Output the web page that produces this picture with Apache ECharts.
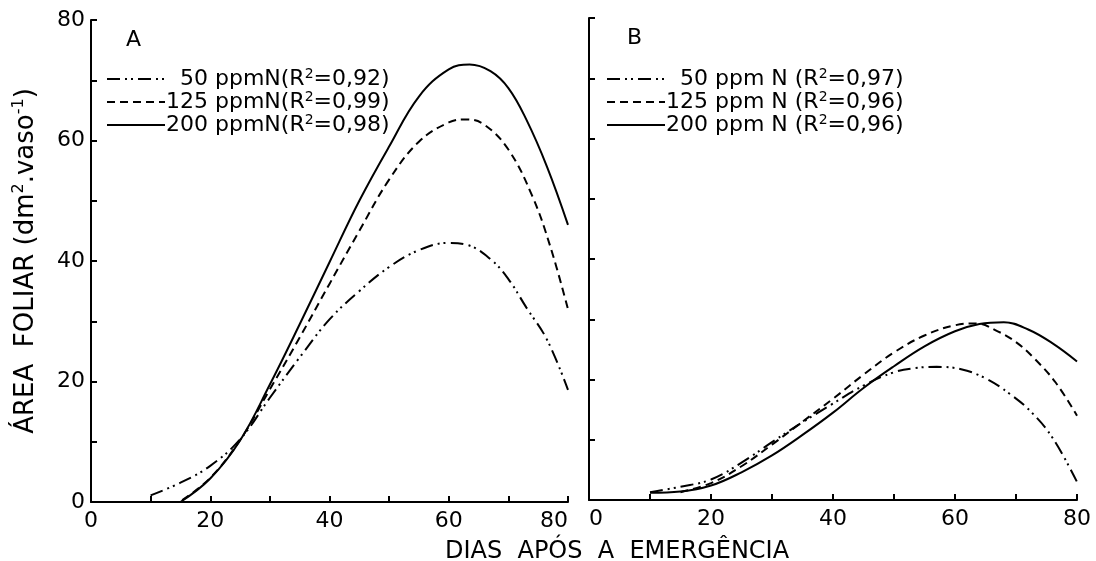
<!DOCTYPE html>
<html>
<head>
<meta charset="utf-8">
<script src="https://cdn.jsdelivr.net/npm/echarts@6/dist/echarts.min.js"></script>
<style>
html,body{margin:0;padding:0;background:#fff;}
#chart{width:1096px;height:561px;}
</style>
</head>
<body>
<div id="chart"></div>
<script>
// ---------- data ----------
// Panel A
const a50Days  = [10, 15, 20, 25, 30, 35, 40, 45, 50, 55, 60, 63, 67, 70, 73, 76.5, 80];
const a50Vals  = [1.1, 3.2, 6, 10.4, 17.3, 24, 30.3, 35, 39, 41.8, 43, 42.7, 40.3, 37, 32.3, 26.9, 18.6];
const a125Days = [15.3, 20, 25, 30, 35, 40, 45, 50, 55, 60, 63, 66, 70, 74, 77, 80];
const a125Vals = [0.3, 4, 10.3, 18.7, 27.3, 36.2, 45, 53.5, 59.8, 63, 63.5, 62.6, 58.5, 50.8, 42.5, 32];
const a200Days = [15, 20, 25, 30, 35, 40, 45, 50, 55, 60, 63.5, 67, 70, 73, 76.5, 80];
const a200Vals = [0, 3.9, 10.2, 19.5, 29.5, 39.8, 50, 59, 67.3, 71.8, 72.6, 71.5, 68.7, 63.5, 55.6, 46];
// Panel B
const b50Days  = [10, 15, 20, 25, 30, 35, 40, 45, 50, 53.5, 57, 61, 65, 69, 72.5, 76, 80];
const b50Vals  = [1.3, 2.2, 3.4, 6.2, 9.6, 12.9, 16, 19, 21.2, 21.9, 22.1, 21.7, 20.2, 17.6, 14.6, 10.3, 3];
const b125Days = [15, 20, 25, 30, 35, 40, 45, 50, 55, 60, 63.5, 67, 70, 73, 76.5, 80];
const b125Vals = [1.3, 2.8, 5.6, 9.2, 13, 16.8, 20.8, 24.5, 27.3, 29, 29.3, 28, 26.2, 23.5, 19.5, 14];
const b200Days = [10, 15, 20, 25, 30, 35, 40, 45, 50, 55, 60, 64, 68, 72, 76, 80];
const b200Vals = [1.2, 1.4, 2.4, 4.6, 7.4, 10.8, 14.5, 18.6, 22.2, 25.5, 28, 29.2, 29.5, 28.3, 26, 23];

const legendLabelsA = ['50 ppmN', '125 ppmN', '200 ppmN'];
const legendR2A = ['0,92', '0,99', '0,98'];
const legendLabelsB = ['50 ppm N', '125 ppm N', '200 ppm N'];
const legendR2B = ['0,97', '0,96', '0,96'];
const xTicks = [0, 20, 40, 60, 80];
const yTicks = [0, 20, 40, 60, 80];

// ---------- build ----------
const FONT = 'DejaVu Sans';
const zip = (xs, ys) => xs.map((x, i) => [x, ys[i]]);
const dashDot = [13, 5, 2, 4, 2, 5];
const dashed = [8, 5];
const styles = [dashDot, dashed, 'solid'];

const nameA = legendLabelsA.map((l, i) => 'A|' + i);
const nameB = legendLabelsB.map((l, i) => 'B|' + i);
const richMap = {};
legendLabelsA.forEach((l, i) => {
  richMap[nameA[i]] = '{t|' + (i === 0 ? '  ' : '') + l + '(R}{s|2}{t|=' + legendR2A[i] + ')}';
});
legendLabelsB.forEach((l, i) => {
  richMap[nameB[i]] = '{t|' + (i === 0 ? '  ' : '') + l + ' (R}{s|2}{t|=' + legendR2B[i] + ')}';
});

const seriesDefs = [
  [nameA[0], 0, a50Days, a50Vals, styles[0]],
  [nameA[1], 0, a125Days, a125Vals, styles[1]],
  [nameA[2], 0, a200Days, a200Vals, styles[2]],
  [nameB[0], 1, b50Days, b50Vals, styles[0]],
  [nameB[1], 1, b125Days, b125Vals, styles[1]],
  [nameB[2], 1, b200Days, b200Vals, styles[2]]
];

const series = seriesDefs.map(([name, idx, xs, ys, type]) => ({
  name, type: 'line', xAxisIndex: idx, yAxisIndex: idx,
  data: zip(xs, ys), smooth: 0.4, symbol: 'none', showSymbol: false,
  lineStyle: { color: '#000', width: 2, type },
  itemStyle: { color: '#000' },
  animation: false
}));

const lbl = { color: '#000', fontFamily: FONT, fontSize: 22 };
const axisCommon = {
  type: 'value', min: 0, max: 80, interval: 10,
  splitLine: { show: false },
  axisLine: { show: true, onZero: false, lineStyle: { color: '#000', width: 2 } },
  axisTick: { show: true, inside: true, length: 6, lineStyle: { color: '#000', width: 2 } }
};
const tickFmt = ticks => v => (ticks.indexOf(v) >= 0 ? String(v) : '');

const legendCommon = {
  orient: 'vertical', itemWidth: 58, itemHeight: 14, itemGap: 0,
  selectedMode: false,
  itemStyle: { opacity: 0 },
  formatter: n => richMap[n],
  textStyle: {
    color: '#000', fontFamily: FONT, padding: [0, 0, 0, -4],
    rich: {
      t: { fontSize: 22, lineHeight: 24, fontFamily: FONT, color: '#000' },
      s: { fontSize: 14, lineHeight: 12, verticalAlign: 'top', fontFamily: FONT, color: '#000' }
    }
  }
};

const option = {
  backgroundColor: '#fff',
  animation: false,
  grid: [
    { left: 91, top: 20, width: 477, height: 482 },
    { left: 589, top: 18, width: 488, height: 482 }
  ],
  title: [
    { text: 'A', left: 121, top: 24, textStyle: { fontFamily: FONT, fontSize: 22, fontWeight: 'normal', color: '#000' } },
    { text: 'B', left: 622, top: 22, textStyle: { fontFamily: FONT, fontSize: 22, fontWeight: 'normal', color: '#000' } },
    { text: 'DIAS  APÓS  A  EMERGÊNCIA', left: 440, top: 535, textStyle: { fontFamily: FONT, fontSize: 24, fontWeight: 'normal', color: '#000' } }
  ],
  legend: [
    Object.assign({}, legendCommon, { data: nameA, left: 101, top: 62 }),
    Object.assign({}, legendCommon, { data: nameB, left: 601, top: 62 })
  ],
  xAxis: [
    Object.assign({}, axisCommon, { gridIndex: 0, axisLabel: Object.assign({ margin: 8, formatter: tickFmt(xTicks), alignMaxLabel: 'right' }, lbl) }),
    Object.assign({}, axisCommon, { gridIndex: 1, axisLabel: Object.assign({ margin: 8, formatter: tickFmt(xTicks), alignMinLabel: 'left' }, lbl) })
  ],
  yAxis: [
    Object.assign({}, axisCommon, {
      gridIndex: 0,
      axisLabel: Object.assign({ margin: 6, formatter: tickFmt(yTicks) }, lbl),
      name: '{t|ÁREA  FOLIAR (dm}{s|2}{t|.vaso}{s|-1}{t|)}',
      nameLocation: 'middle', nameGap: 50, nameRotate: 90,
      nameTextStyle: {
        color: '#000', fontFamily: FONT,
        rich: {
          t: { fontSize: 26, lineHeight: 30, fontFamily: FONT, color: '#000' },
          s: { fontSize: 16, lineHeight: 14, verticalAlign: 'top', fontFamily: FONT, color: '#000' }
        }
      }
    }),
    Object.assign({}, axisCommon, { gridIndex: 1, axisLabel: { show: false } })
  ],
  series
};

const chart = echarts.init(document.getElementById('chart'), null, { renderer: 'canvas' });
chart.setOption(option);
</script>
</body>
</html>
